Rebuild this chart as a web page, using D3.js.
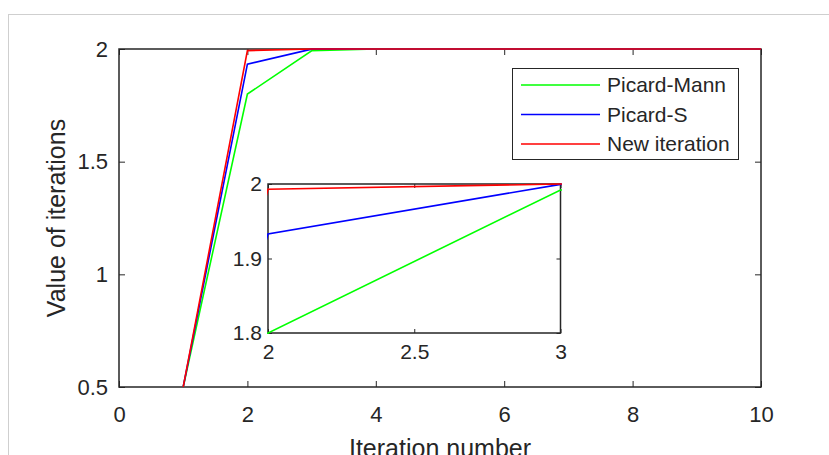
<!DOCTYPE html>
<html lang="en">
<head>
  <meta charset="UTF-8">
  <title>Iterations</title>
  <style>
    body { margin: 0; background: #fff; }
    svg { display: block; font-family: "Liberation Sans", Arial, sans-serif; }
    .axis text { fill: #262626; }
    .axis line { stroke: #262626; }
    .series { fill: none; stroke-width: 1.6px; }
  </style>
  <script src="https://cdnjs.cloudflare.com/ajax/libs/d3/7.8.5/d3.min.js"></script>
</head>
<body>
  <div id="graph"></div>
  <script>
    // data
    var iterations = [1, 2, 3, 4, 5, 6, 7, 8, 9, 10];
    var picardMann = [0.5, 1.8, 1.992, 2, 2, 2, 2, 2, 2, 2];
    var picardS    = [0.5, 1.933, 1.9995, 2, 2, 2, 2, 2, 2, 2];
    var newIter    = [0.5, 1.993, 2, 2, 2, 2, 2, 2, 2, 2];
    var seriesNames = ["Picard-Mann", "Picard-S", "New iteration"];
    var seriesColors = ["#00ff00", "#0000ff", "#ff0000"];

    var xTicks = [0, 2, 4, 6, 8, 10];
    var yTicks = [0.5, 1, 1.5, 2];
    var insetXTicks = [2, 2.5, 3];
    var insetYTicks = [1.8, 1.9, 2];

    var seriesData = [picardMann, picardS, newIter];
    var ink = "#262626";

    var svg = d3.select("#graph").append("svg")
        .attr("width", 829)
        .attr("height", 455);

    // figure frame (light border of the window)
    svg.append("rect")
        .attr("x", 8.5).attr("y", 14.5)
        .attr("width", 900).attr("height", 500)
        .attr("fill", "#fff")
        .attr("stroke", "#cfcfcf");

    // main axes
    var m = {left: 119, right: 761, top: 49, bottom: 387};
    var x = d3.scaleLinear().domain([0, 10]).range([m.left, m.right]);
    var y = d3.scaleLinear().domain([0.5, 2]).range([m.bottom, m.top]);

    function fmt(d) { return String(d); }

    function drawAxes(g, xs, ys, xt, yt, opt) {
      var xr = xs.range(), yr = ys.range();
      var bx = g.append("g").attr("class", "axis")
          .attr("transform", "translate(0," + yr[0] + ")")
          .call(d3.axisBottom(xs).tickValues(xt).tickFormat(fmt)
            .tickSizeInner(-opt.tick).tickSizeOuter(0).tickPadding(opt.xPad));
      var tx = g.append("g").attr("class", "axis")
          .attr("transform", "translate(0," + yr[1] + ")")
          .call(d3.axisTop(xs).tickValues(xt).tickFormat("")
            .tickSizeInner(-opt.tick).tickSizeOuter(0));
      var ly = g.append("g").attr("class", "axis")
          .attr("transform", "translate(" + xr[0] + ",0)")
          .call(d3.axisLeft(ys).tickValues(yt).tickFormat(fmt)
            .tickSizeInner(-opt.tick).tickSizeOuter(0).tickPadding(opt.yPad));
      var ry = g.append("g").attr("class", "axis")
          .attr("transform", "translate(" + xr[1] + ",0)")
          .call(d3.axisRight(ys).tickValues(yt).tickFormat("")
            .tickSizeInner(-opt.tick).tickSizeOuter(0));
      [bx, tx, ly, ry].forEach(function(a) {
        a.select(".domain").remove();
        a.attr("font-family", null).attr("font-size", opt.font);
        a.selectAll("line").attr("stroke", ink).attr("stroke-width", 1);
        a.selectAll("text").attr("fill", ink);
      });
      g.append("rect")
          .attr("x", xr[0]).attr("y", yr[1])
          .attr("width", xr[1] - xr[0]).attr("height", yr[0] - yr[1])
          .attr("fill", "none")
          .attr("stroke", ink)
          .attr("stroke-width", 1.5);
    }

    var main = svg.append("g");
    main.append("rect")
        .attr("x", m.left).attr("y", m.top)
        .attr("width", m.right - m.left).attr("height", m.bottom - m.top)
        .attr("fill", "#fff");
    drawAxes(main, x, y, xTicks, yTicks, {tick: 6, font: 22, xPad: 19, yPad: 11});

    var line = d3.line()
        .x(function(d, i) { return x(iterations[i]); })
        .y(function(d) { return y(d); });

    seriesData.forEach(function(s, k) {
      main.append("path")
          .datum(s)
          .attr("class", "series")
          .attr("stroke", seriesColors[k])
          .attr("d", line);
    });

    // axis labels
    svg.append("text")
        .attr("x", (m.left + m.right) / 2)
        .attr("y", 457)
        .attr("text-anchor", "middle")
        .attr("font-size", 25)
        .attr("fill", ink)
        .text("Iteration number");

    svg.append("text")
        .attr("transform", "translate(65," + (m.top + m.bottom) / 2 + ") rotate(-90)")
        .attr("text-anchor", "middle")
        .attr("font-size", 25)
        .attr("fill", ink)
        .text("Value of iterations");

    // legend
    var leg = svg.append("g");
    leg.append("rect")
        .attr("x", 512.5).attr("y", 68.5)
        .attr("width", 226).attr("height", 91)
        .attr("fill", "#fff")
        .attr("stroke", ink)
        .attr("stroke-width", 1);
    seriesNames.forEach(function(name, k) {
      var ry = 85 + k * 29.5;
      leg.append("line")
          .attr("x1", 521).attr("x2", 600)
          .attr("y1", ry).attr("y2", ry)
          .attr("stroke", seriesColors[k])
          .attr("stroke-width", 1.6);
      leg.append("text")
          .attr("x", 607).attr("y", ry)
          .attr("dy", "0.35em")
          .attr("font-size", 21)
          .attr("fill", ink)
          .text(name);
    });

    // inset zoom on iterations 2..3
    var ix = d3.scaleLinear().domain([2, 3]).range([268, 560.5]);
    var iy = d3.scaleLinear().domain([1.8, 2]).range([333, 184]);
    var inset = svg.append("g");
    inset.append("rect")
        .attr("x", 268).attr("y", 184)
        .attr("width", 292.5).attr("height", 149)
        .attr("fill", "#fff");
    svg.append("clipPath").attr("id", "insetClip")
      .append("rect")
        .attr("x", 267).attr("y", 183)
        .attr("width", 295).attr("height", 151);

    var iline = d3.line()
        .x(function(d, i) { return ix(iterations[i]); })
        .y(function(d) { return iy(d); });

    drawAxes(inset, ix, iy, insetXTicks, insetYTicks, {tick: 4, font: 21, xPad: 11, yPad: 6});

    seriesData.forEach(function(s, k) {
      inset.append("path")
          .datum(s)
          .attr("class", "series")
          .attr("clip-path", "url(#insetClip)")
          .attr("stroke", seriesColors[k])
          .attr("d", iline);
    });
  </script>
</body>
</html>
